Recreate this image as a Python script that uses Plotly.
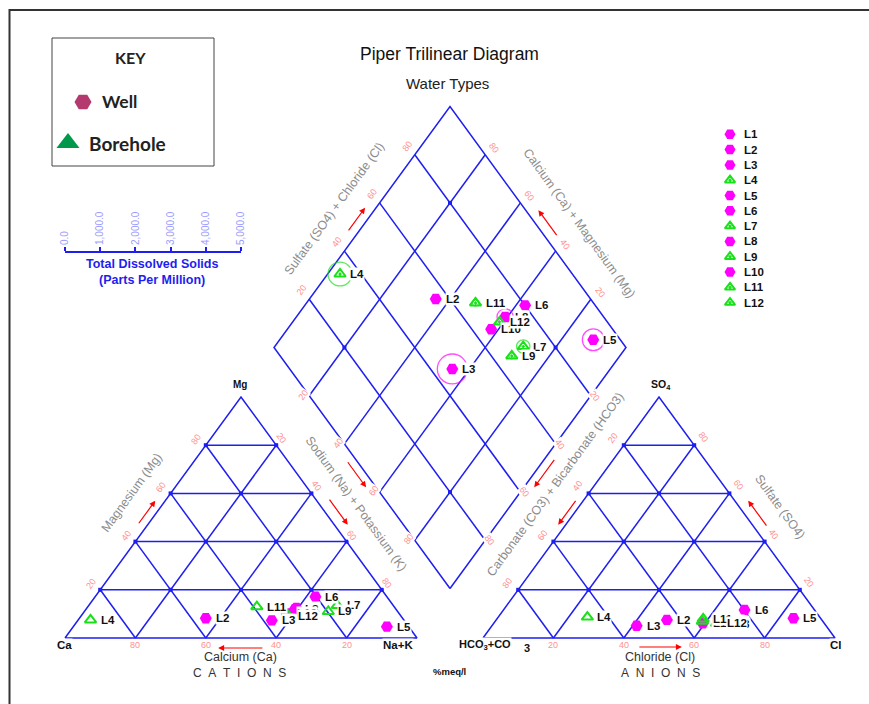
import plotly.graph_objects as go

# ---------------- sample chemistry (% of meq/l) ----------------
samples = ["L1", "L2", "L3", "L4", "L5", "L6", "L7", "L8", "L9", "L10", "L11", "L12"]
source = ["Well", "Well", "Well", "Borehole", "Well", "Well", "Borehole",
          "Well", "Borehole", "Well", "Borehole", "Borehole"]
# cations
ca = [28.0, 55.9, 37.6, 89.0, 6.2, 20.3, 15.9, 28.7, 19.7, 31.9, 39.0, 31.9]
mg = [12.5, 8.2, 7.3, 7.5, 4.7, 17.1, 13.5, 12.0, 11.0, 10.2, 13.0, 9.3]
na_k = [59.5, 35.9, 55.1, 3.5, 89.1, 62.6, 70.6, 59.3, 69.3, 57.9, 48.0, 58.8]
# anions
hco3_co3 = [28.0, 44.0, 53.8, 66.0, 7.7, 19.9, 29.0, 28.0, 34.2, 34.5, 33.5, 30.6]
so4 = [6.5, 7.5, 5.1, 8.7, 8.2, 11.6, 7.0, 6.0, 7.0, 6.1, 7.9, 6.1]
cl = [65.5, 48.5, 41.1, 25.3, 84.1, 68.5, 64.0, 66.0, 58.8, 59.4, 58.6, 63.3]
# total dissolved solids (ppm)
tds = [150, 180, 850, 680, 620, 170, 380, 460, 160, 170, 180, 170]

grid_pct = [20, 40, 60, 80]
tds_ticks = [0, 1000, 2000, 3000, 4000, 5000]

# ---------------- page geometry (pixels) ----------------
W, H = 869, 704
CAT_X0, ANI_X0, BASE_Y = 65.0, 483.0, 638.0
SIDE, HT = 352.0, 241.0
DIA_X, DIA_Y = 450.0, 588.5
TDS_X0, TDS_X1, TDS_Y = 65.0, 241.0, 253.0

BLUE = "#1E1EF0"
PINK = "#FF9090"
GREY = "#8C8C8C"
MAGENTA = "#FF00FF"
GREEN = "#19E019"
FONT = "Liberation Sans"


def tri_xy(x0, right_pct, top_pct):
    """Ternary position: right_pct -> right corner, top_pct -> apex."""
    return (x0 + SIDE * (right_pct + top_pct / 2.0) / 100.0,
            BASE_Y - HT * top_pct / 100.0)


def dia_xy(anion_pct, cation_pct):
    """Diamond position from (SO4+Cl)% and (Ca+Mg)%."""
    return (DIA_X + SIDE / 2.0 * (anion_pct - cation_pct) / 100.0,
            DIA_Y - HT * (anion_pct + cation_pct) / 100.0)


fig = go.Figure()

# ---------------- grid lines ----------------
segs = []
for x0 in (CAT_X0, ANI_X0):
    segs.append([tri_xy(x0, 0, 0), tri_xy(x0, 100, 0), tri_xy(x0, 0, 100), tri_xy(x0, 0, 0)])
    for k in grid_pct:
        segs.append([tri_xy(x0, 0, k), tri_xy(x0, 100 - k, k)])
        segs.append([tri_xy(x0, k, 0), tri_xy(x0, k, 100 - k)])
        segs.append([tri_xy(x0, 100 - k, 0), tri_xy(x0, 0, 100 - k)])
segs.append([dia_xy(0, 0), dia_xy(100, 0), dia_xy(100, 100), dia_xy(0, 100), dia_xy(0, 0)])
for k in grid_pct:
    segs.append([dia_xy(k, 0), dia_xy(k, 100)])
    segs.append([dia_xy(0, k), dia_xy(100, k)])

gx, gy = [], []
for s in segs:
    for p in s:
        gx.append(p[0]); gy.append(p[1])
    gx.append(None); gy.append(None)
fig.add_trace(go.Scatter(x=gx, y=gy, mode="lines", line=dict(color=BLUE, width=1.5),
                         hoverinfo="skip", showlegend=False))

nx, ny = [], []
for x0 in (CAT_X0, ANI_X0):
    for top in grid_pct:
        for right in range(0, 101 - top, 20):
            p = tri_xy(x0, right, top)
            nx.append(p[0]); ny.append(p[1])
for a in (20, 80):
    for c in (20, 80):
        p = dia_xy(a, c)
        nx.append(p[0]); ny.append(p[1])
fig.add_trace(go.Scatter(x=nx, y=ny, mode="markers",
                         marker=dict(symbol="square", size=4, color=BLUE),
                         hoverinfo="skip", showlegend=False))

# ---------------- sample positions ----------------
cat_pts = [tri_xy(CAT_X0, na_k[i], mg[i]) for i in range(len(samples))]
ani_pts = [tri_xy(ANI_X0, cl[i], so4[i]) for i in range(len(samples))]
dia_pts = [dia_xy(so4[i] + cl[i], ca[i] + mg[i]) for i in range(len(samples))]

px_per_ppm = (TDS_X1 - TDS_X0) / tds_ticks[-1]
ring_col = [MAGENTA if s == "Well" else GREEN for s in source]
fig.add_trace(go.Scatter(
    x=[p[0] for p in dia_pts], y=[p[1] for p in dia_pts], mode="markers",
    marker=dict(symbol="circle-open", size=[t * px_per_ppm for t in tds],
                color=ring_col, line=dict(width=1.3, color=ring_col)),
    hoverinfo="skip", showlegend=False))

wells = [i for i, s in enumerate(source) if s == "Well"]
bores = [i for i, s in enumerate(source) if s == "Borehole"]
for pts in (cat_pts, ani_pts, dia_pts):
    fig.add_trace(go.Scatter(
        x=[pts[i][0] for i in wells], y=[pts[i][1] for i in wells], mode="markers",
        marker=dict(symbol="hexagon2", size=12, color=MAGENTA, line=dict(width=0)),
        hoverinfo="skip", showlegend=False))
for pts, sym in ((cat_pts, "triangle-up-open"), (ani_pts, "triangle-up-open"),
                 (dia_pts, "triangle-up-open-dot")):
    fig.add_trace(go.Scatter(
        x=[pts[i][0] for i in bores], y=[pts[i][1] for i in bores], mode="markers",
        marker=dict(symbol=sym, size=10, color=GREEN, line=dict(width=2, color=GREEN)),
        hoverinfo="skip", showlegend=False))

ann = []


def text(x, y, s, size=11, color="#111", bold=False, angle=0, bg=None,
         xanchor="center", family=FONT):
    d = dict(x=x, y=y, xref="x", yref="y", text=s, showarrow=False,
             xanchor=xanchor, yanchor="middle", textangle=angle,
             font=dict(family=family, size=size, color=color,
                       weight="bold" if bold else "normal"))
    if bg:
        d.update(bgcolor=bg, borderpad=0)
    ann.append(d)


# sample labels
for pts in (cat_pts, ani_pts, dia_pts):
    for i, name in enumerate(samples):
        text(pts[i][0] + 9, pts[i][1], name, size=11.5, bold=True, bg="white",
             xanchor="left")

# ---------------- tick labels ----------------
for k in grid_pct:
    # cation triangle
    p = tri_xy(CAT_X0, 0, k); text(p[0] - 9.5, p[1] - 6, str(k), 9, PINK, angle=-54, bg="white")
    p = tri_xy(CAT_X0, k, 100 - k); text(p[0] + 5, p[1] - 7, str(k), 9, PINK, angle=54, bg="white")
    p = tri_xy(CAT_X0, 100 - k, 0); text(p[0], p[1] + 7, str(k), 9, PINK)
    # anion triangle
    p = tri_xy(ANI_X0, 0, 100 - k); text(p[0] - 11, p[1] - 7, str(k), 9, PINK, angle=-54, bg="white")
    p = tri_xy(ANI_X0, 100 - k, k); text(p[0] + 9, p[1] - 8, str(k), 9, PINK, angle=54, bg="white")
    p = tri_xy(ANI_X0, k, 0); text(p[0], p[1] + 7, str(k), 9, PINK)
    # diamond
    p = dia_xy(k, 100); text(p[0] - 7.5, p[1] - 9, str(k), 9, PINK, angle=-54, bg="white")
    p = dia_xy(100, k); text(p[0] + 9, p[1] - 7, str(k), 9, PINK, angle=54, bg="white")
    p = dia_xy(0, 100 - k); text(p[0] - 6, p[1] - 1, str(k), 9, PINK, angle=-54, bg="white")
    p = dia_xy(100 - k, 0); text(p[0] + 4, p[1], str(k), 9, PINK, angle=54, bg="white")

# ---------------- corner labels ----------------
p = tri_xy(CAT_X0, 0, 0); text(p[0] - 1, p[1] + 7, "Ca", 11.5, "#111", True, bg="white")
p = tri_xy(CAT_X0, 100, 0); text(p[0] - 19, p[1] + 7, "Na+K", 11.5, "#111", True, bg="white")
p = tri_xy(CAT_X0, 0, 100); text(p[0] - 1, p[1] - 13, "Mg", 10, "#111", True)
p = tri_xy(ANI_X0, 0, 0); text(p[0] + 2, p[1] + 7, "HCO<sub>3</sub>+CO", 11, "#111", True, bg="white")
text(p[0] + 44, p[1] + 10, "3", 11, "#111", True)
p = tri_xy(ANI_X0, 100, 0); text(p[0] + 1, p[1] + 7, "Cl", 11.5, "#111", True, bg="white")
p = tri_xy(ANI_X0, 0, 100); text(p[0] + 2, p[1] - 12, "SO<sub>4</sub>", 10.5, "#111", True)

# ---------------- axis titles ----------------
text(131.5, 493, "Magnesium (Mg)", 12.5, GREY, angle=-54)
text(356.5, 503.5, "Sodium (Na) + Potassium (K)", 12.5, GREY, angle=54)
text(555, 485, "Carbonate (CO3) + Bicarbonate (HCO3)", 12.5, GREY, angle=-54)
text(780, 507, "Sulfate (SO4)", 12.5, GREY, angle=54)
text(334, 208.5, "Sulfate (SO4) + Chloride (Cl)", 12.5, GREY, angle=-54)
text(579, 223, "Calcium (Ca) + Magnesium (Mg)", 12.5, GREY, angle=54)
text(240, 657, "Calcium (Ca)", 12.5, "#333")
text(660, 657, "Chloride (Cl)", 12.5, "#333")
sp = "\u00a0\u00a0"
text(239, 673, sp.join("CATIONS"), 12, "#333")
text(660, 673, sp.join("ANIONS"), 12, "#333")
text(449, 671, "%meq/l", 9.5, "#111", True)

text(449, 54, "Piper Trilinear Diagram", 17.5, "#111")
text(447, 83, "Water Types", 15, "#222")

# ---------------- direction arrows ----------------
arrows = [
    (lambda v: tri_xy(CAT_X0, 0, v), 47, 57, (-10, 0)),
    (lambda v: tri_xy(CAT_X0, v, 100 - v), 42, 53, (13.5, 0)),
    (lambda v: tri_xy(CAT_X0, 100 - v, 0), 43.5, 56.5, (0, 10)),
    (lambda v: tri_xy(ANI_X0, v, 0), 44, 56.5, (0, 9)),
    (lambda v: tri_xy(ANI_X0, 0, 100 - v), 42.5, 53, (-7.5, 0)),
    (lambda v: tri_xy(ANI_X0, 100 - v, v), 46, 57, (13.5, 0)),
    (lambda v: dia_xy(v, 100), 48, 58, (-11, 0)),
    (lambda v: dia_xy(100, v), 46, 57, (12.7, 0)),
    (lambda v: dia_xy(0, 100 - v), 47, 58, (-10, 0)),
    (lambda v: dia_xy(100 - v, 0), 46, 58, (10.3, 0)),
]
for f, v0, v1, (dx, dy) in arrows:
    t = f(v0); h = f(v1)
    ann.append(dict(x=h[0] + dx, y=h[1] + dy, ax=t[0] + dx, ay=t[1] + dy,
                    xref="x", yref="y", axref="x", ayref="y", text="",
                    showarrow=True, arrowhead=2, arrowsize=1, arrowwidth=1.2,
                    arrowcolor="#FF0000"))

# ---------------- right-hand sample legend ----------------
leg_y = [134.3 + 15.3 * i for i in range(len(samples))]
fig.add_trace(go.Scatter(x=[730] * len(wells), y=[leg_y[i] for i in wells], mode="markers",
                         marker=dict(symbol="hexagon2", size=11, color=MAGENTA),
                         hoverinfo="skip", showlegend=False))
fig.add_trace(go.Scatter(x=[730] * len(bores), y=[leg_y[i] for i in bores], mode="markers",
                         marker=dict(symbol="triangle-up-open-dot", size=9, color=GREEN,
                                     line=dict(width=2, color=GREEN)),
                         hoverinfo="skip", showlegend=False))
for i, name in enumerate(samples):
    text(742, leg_y[i], name, 11.5, "#111", True, xanchor="left")

# ---------------- key box ----------------
fig.add_trace(go.Scatter(x=[83], y=[102], mode="markers",
                         marker=dict(symbol="hexagon2", size=17, color="#B4396E"),
                         hoverinfo="skip", showlegend=False))
fig.add_trace(go.Scatter(x=[68], y=[143], mode="markers",
                         marker=dict(symbol="triangle-up", size=20, color="#00994C"),
                         hoverinfo="skip", showlegend=False))
text(130, 57, "KEY", 16, "#222", True, family="Lato")
text(100, 101, "Well", 17.5, "#222", True, xanchor="left", family="Lato")
text(87, 143, "Borehole", 19, "#222", True, xanchor="left", family="Lato")

# TDS scale captions
text(152, 264, "Total Dissolved Solids", 12.5, BLUE, True)
text(152, 280, "(Parts Per Million)", 12.5, BLUE, True)

# dummy trace so the TDS scale axis is created
fig.add_trace(go.Scatter(x=[0], y=[-1], xaxis="x2", yaxis="y2", mode="markers",
                         marker=dict(opacity=0), hoverinfo="skip", showlegend=False))

shapes = [
    # page frame (left and top sides)
    dict(type="path", xref="x", yref="y", path=f"M 9.5 {H} L 9.5 10 L {W} 10",
         line=dict(color="#333", width=2)),
    dict(type="rect", xref="x", yref="y", x0=52, y0=38, x1=214, y1=166,
         line=dict(color="#444", width=1)),
]

fig.update_layout(
    width=W, height=H,
    margin=dict(l=0, r=0, t=0, b=0, pad=0, autoexpand=False),
    paper_bgcolor="white", plot_bgcolor="white",
    xaxis=dict(range=[0, W], visible=False, fixedrange=True, automargin=False),
    yaxis=dict(range=[H, 0], visible=False, fixedrange=True, automargin=False),
    xaxis2=dict(domain=[TDS_X0 / W, TDS_X1 / W], range=[0, tds_ticks[-1]],
                anchor="y2", side="top", showline=True, linecolor=BLUE, linewidth=2,
                ticks="outside", ticklen=4, tickwidth=1.5, tickcolor=BLUE,
                tickvals=tds_ticks, tickformat=",.1f", tickangle=-90,
                tickfont=dict(family=FONT, size=10, color="#9C9CFF"),
                showgrid=False, zeroline=False, fixedrange=True, automargin=False),
    yaxis2=dict(domain=[1 - (TDS_Y + 10) / H, 1 - TDS_Y / H], range=[0, 1],
                visible=False, fixedrange=True, automargin=False),
    annotations=ann, shapes=shapes, showlegend=False, hovermode=False,
    font=dict(family=FONT),
)

fig.write_html("out.html")
